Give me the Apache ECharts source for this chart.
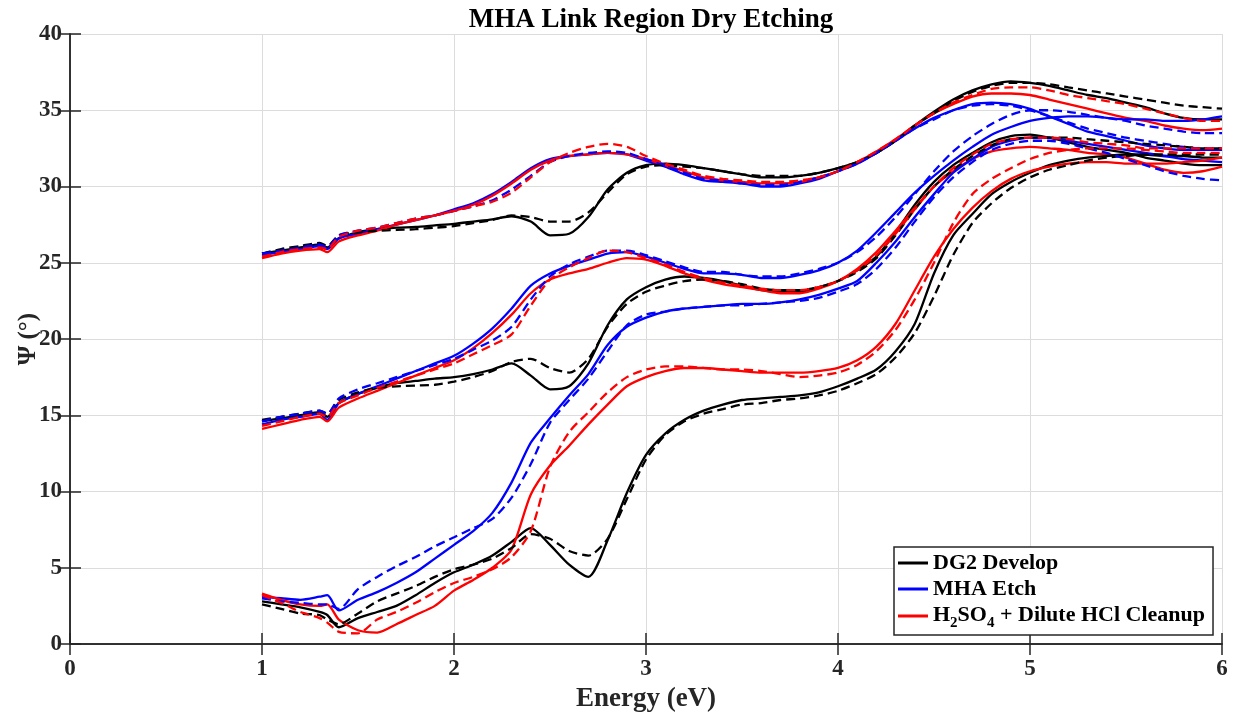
<!DOCTYPE html>
<html><head><meta charset="utf-8">
<script src="https://cdn.jsdelivr.net/npm/echarts@6/dist/echarts.min.js"></script>
<style>html,body{margin:0;padding:0;background:#fff}#c{width:1240px;height:715px}</style>
</head><body><div id="c"></div>
<script>
// Shared photon energy grid (eV)
const energy = [1.0,1.1,1.2,1.3,1.34,
 1.4,1.5,1.6,1.7,1.8,1.9,2.0,2.1,2.2,2.3,
 2.4,2.5,2.6,2.7,2.8,2.9,3.0,3.1,3.2,3.3,
 3.4,3.5,3.6,3.7,3.8,3.9,4.0,4.1,4.2,4.3,
 4.4,4.5,4.6,4.7,4.8,4.9,5.0,5.1,5.2,5.3,
 5.4,5.5,5.6,5.7,5.8,5.9,6.0];

const xTicks = [0,1,2,3,4,5,6];
const yTicks = [0,5,10,15,20,25,30,35,40];
const legendNames = ['DG2 Develop','MHA Etch','H2SO4 + Dilute HCl Cleanup'];

// Upper curve family
const topBlackSolid = [25.6,25.8,26.0,26.2,26.0,
 26.6,27.0,27.2,27.3,27.35,27.45,27.55,27.7,27.85,28.05,
 27.7,26.8,26.9,28.0,29.8,30.9,31.4,31.5,31.4,31.2,
 31.0,30.8,30.6,30.6,30.7,30.9,31.2,31.6,32.2,33.0,
 34.0,34.9,35.7,36.3,36.7,36.9,36.8,36.6,36.3,36.0,
 35.8,35.5,35.2,34.8,34.5,34.4,34.4];
const topBlackDash = [25.6,25.9,26.1,26.3,26.1,
 26.8,27.0,27.1,27.15,27.2,27.3,27.4,27.6,27.8,28.1,
 28.0,27.7,27.7,28.3,29.6,30.8,31.3,31.4,31.3,31.2,
 31.0,30.8,30.7,30.7,30.7,30.9,31.2,31.6,32.2,33.0,
 34.0,34.8,35.6,36.2,36.6,36.8,36.8,36.7,36.5,36.3,
 36.1,35.9,35.7,35.5,35.3,35.2,35.1];
const topBlueSolid = [25.5,25.7,25.9,26.1,25.9,
 26.6,26.9,27.2,27.5,27.8,28.1,28.5,28.9,29.5,30.3,
 31.2,31.8,32.0,32.1,32.2,32.1,31.7,31.3,30.8,30.4,
 30.3,30.2,30.0,30.0,30.2,30.5,31.0,31.5,32.2,33.0,
 33.8,34.5,35.0,35.4,35.5,35.4,35.1,34.6,34.1,33.6,
 33.3,33.0,32.7,32.5,32.4,32.4,32.4];
const topBlueDash = [25.6,25.8,26.0,26.2,26.0,
 26.8,27.1,27.3,27.6,27.9,28.1,28.4,28.7,29.1,29.8,
 30.7,31.6,32.0,32.2,32.3,32.2,31.8,31.4,30.9,30.5,
 30.4,30.2,30.1,30.1,30.3,30.6,31.0,31.5,32.2,33.0,
 33.8,34.4,35.0,35.3,35.4,35.3,35.0,34.6,34.2,33.8,
 33.5,33.2,33.0,32.8,32.6,32.5,32.5];
const topRedSolid = [25.3,25.6,25.8,25.9,25.7,
 26.4,26.8,27.1,27.5,27.8,28.1,28.4,28.8,29.4,30.2,
 31.1,31.7,32.0,32.1,32.2,32.1,31.8,31.4,31.0,30.6,
 30.4,30.3,30.2,30.2,30.3,30.6,31.0,31.6,32.3,33.1,
 34.0,34.8,35.4,35.9,36.1,36.1,36.0,35.7,35.4,35.1,
 34.8,34.5,34.3,34.0,33.8,33.7,33.8];
const topRedDash = [25.4,25.7,25.9,26.0,25.9,
 26.7,27.1,27.3,27.6,27.9,28.1,28.4,28.7,29.0,29.6,
 30.6,31.6,32.2,32.6,32.8,32.6,32.0,31.5,31.1,30.7,
 30.5,30.4,30.3,30.3,30.4,30.6,31.0,31.6,32.3,33.1,
 34.0,34.8,35.5,36.0,36.4,36.5,36.5,36.3,36.0,35.8,
 35.6,35.4,35.1,34.8,34.5,34.3,34.3];

// Middle curve family
const midBlackSolid = [14.6,14.8,15.0,15.2,14.9,
 15.8,16.4,16.8,17.1,17.25,17.4,17.5,17.7,18.0,18.4,
 17.6,16.7,16.9,18.4,20.9,22.6,23.4,23.9,24.1,24.0,
 23.8,23.5,23.2,23.1,23.1,23.4,23.8,24.5,25.4,27.0,
 28.8,30.3,31.4,32.2,32.9,33.3,33.4,33.2,32.9,32.6,
 32.4,32.2,31.9,31.7,31.5,31.4,31.4];
const midBlackDash = [14.7,14.9,15.1,15.3,15.1,
 16.0,16.5,16.8,16.9,16.95,17.0,17.2,17.5,17.9,18.5,
 18.7,18.1,17.8,18.7,20.8,22.3,23.1,23.5,23.8,23.9,
 23.8,23.6,23.3,23.2,23.2,23.4,23.8,24.4,25.3,26.8,
 28.5,30.0,31.1,32.0,32.7,33.1,33.2,33.2,33.2,33.1,
 33.0,32.9,32.8,32.7,32.6,32.5,32.5];
const midBlueSolid = [14.4,14.7,14.9,15.1,14.7,
 15.8,16.4,16.9,17.4,17.9,18.4,18.9,19.7,20.7,22.0,
 23.5,24.3,24.8,25.2,25.6,25.7,25.4,25.0,24.6,24.3,
 24.3,24.2,24.0,24.0,24.2,24.5,25.0,25.8,27.0,28.3,
 29.6,30.7,31.7,32.6,33.4,33.9,34.3,34.5,34.6,34.6,
 34.5,34.4,34.4,34.3,34.3,34.4,34.6];
const midBlueDash = [14.6,14.9,15.1,15.3,15.1,
 16.1,16.7,17.1,17.5,17.9,18.3,18.7,19.3,19.9,20.8,
 22.6,24.1,24.9,25.4,25.8,25.8,25.5,25.1,24.7,24.4,
 24.4,24.2,24.1,24.1,24.3,24.6,25.0,25.7,26.7,28.0,
 29.5,31.0,32.3,33.3,34.1,34.7,35.0,35.0,34.9,34.7,
 34.5,34.3,34.0,33.8,33.6,33.5,33.5];
const midRedSolid = [14.1,14.4,14.7,14.9,14.6,
 15.5,16.1,16.6,17.1,17.6,18.1,18.6,19.4,20.4,21.6,
 23.0,23.9,24.3,24.6,25.0,25.3,25.2,24.8,24.3,23.9,
 23.6,23.4,23.2,23.0,23.0,23.3,23.8,24.6,25.7,27.1,
 28.6,30.0,31.0,31.8,32.3,32.5,32.6,32.5,32.4,32.2,
 32.1,31.9,31.5,31.1,30.9,31.0,31.3];
const midRedDash = [14.3,14.6,14.9,15.1,14.9,
 15.8,16.3,16.8,17.2,17.6,18.0,18.4,19.0,19.6,20.3,
 22.2,23.9,24.7,25.3,25.8,25.7,25.3,24.9,24.4,24.0,
 23.7,23.5,23.3,23.2,23.2,23.4,23.8,24.5,25.5,26.9,
 28.5,30.0,31.2,32.1,32.8,33.1,33.2,33.2,33.1,32.9,
 32.8,32.7,32.5,32.5,32.5,32.5,32.5];

// Lower curve family
const botBlackSolid = [2.8,2.6,2.4,2.1,1.9,
 1.1,1.7,2.1,2.5,3.2,4.0,4.7,5.2,5.8,6.7,
 7.6,6.5,5.2,4.4,6.8,9.9,12.4,13.8,14.7,15.3,
 15.7,16.0,16.1,16.2,16.3,16.5,16.9,17.4,18.0,19.2,
 21.0,24.3,26.8,28.2,29.5,30.3,30.9,31.4,31.7,31.9,
 32.0,32.1,32.1,32.0,32.0,31.9,31.9];
const botBlackDash = [2.6,2.3,2.0,1.9,1.6,
 1.3,2.0,2.8,3.3,3.8,4.4,4.9,5.2,5.6,6.3,
 7.2,6.9,6.1,5.8,6.9,9.5,12.1,13.7,14.6,15.1,
 15.4,15.7,15.8,16.0,16.1,16.3,16.6,17.1,17.7,18.8,
 20.4,22.8,25.5,27.6,28.9,29.9,30.6,31.1,31.4,31.7,
 31.9,32.0,32.1,32.1,32.1,32.1,32.1];
const botBlueSolid = [3.1,3.0,2.9,3.1,3.2,
 2.2,2.9,3.4,4.0,4.7,5.6,6.5,7.4,8.6,10.6,
 13.2,14.8,16.3,17.7,19.6,20.8,21.4,21.8,22.0,22.1,
 22.2,22.3,22.3,22.4,22.6,22.9,23.3,23.8,25.0,26.4,
 28.0,29.5,30.9,31.8,32.6,33.0,33.2,33.2,33.0,32.8,
 32.6,32.4,32.2,32.0,31.8,31.7,31.6];
const botBlueDash = [3.0,2.8,2.7,2.6,2.6,
 2.3,3.6,4.4,5.1,5.7,6.4,7.0,7.6,8.2,9.6,
 11.8,14.5,16.0,17.4,19.2,20.9,21.6,21.8,22.0,22.1,
 22.2,22.2,22.3,22.4,22.5,22.7,23.1,23.6,24.6,26.0,
 27.7,29.3,30.6,31.6,32.4,32.8,33.0,33.0,32.8,32.5,
 32.2,31.8,31.4,31.0,30.7,30.5,30.4];
const botRedSolid = [3.3,2.9,2.6,2.5,2.6,
 1.6,0.9,0.75,1.3,1.9,2.5,3.5,4.2,5.0,6.2,
 9.8,11.7,13.0,14.4,15.7,16.9,17.5,17.9,18.1,18.1,
 18.0,17.9,17.8,17.8,17.8,17.9,18.1,18.6,19.5,21.0,
 23.2,25.4,27.2,28.6,29.7,30.5,31.0,31.3,31.5,31.6,
 31.6,31.5,31.5,31.5,31.6,31.7,31.9];
const botRedDash = [3.2,2.7,2.1,1.7,1.4,
 0.8,0.7,1.6,2.1,2.7,3.4,4.0,4.4,4.9,5.7,
 7.4,11.6,13.9,15.2,16.5,17.5,18.0,18.2,18.2,18.1,
 18.0,18.0,17.9,17.7,17.5,17.6,17.8,18.3,19.2,20.6,
 22.6,25.0,27.6,29.5,30.5,31.2,31.8,32.2,32.4,32.5,
 32.5,32.5,32.4,32.3,32.2,32.2,32.2];

const BLACK = '#000000', BLUE = '#0000ff', RED = '#ff0000';
const FONT = '"Liberation Serif","Times New Roman",serif';

function mk(name, arr, color, dashed) {
  return {
    name: name, type: 'line', data: energy.map((x, i) => [x, arr[i]]),
    showSymbol: false, symbol: 'none', smooth: 0.25,
    lineStyle: { color: color, width: 2.3, type: dashed ? [9, 5] : 'solid' },
    itemStyle: { color: color }, emphasis: { disabled: true }, z: 3
  };
}

const series = [
  mk(legendNames[0], topBlackSolid, BLACK, false),
  mk(legendNames[1], topBlueSolid, BLUE, false),
  mk(legendNames[2], topRedSolid, RED, false),
  mk(legendNames[0], midBlackSolid, BLACK, false),
  mk(legendNames[1], midBlueSolid, BLUE, false),
  mk(legendNames[2], midRedSolid, RED, false),
  mk(legendNames[0], botBlackSolid, BLACK, false),
  mk(legendNames[1], botBlueSolid, BLUE, false),
  mk(legendNames[2], botRedSolid, RED, false),
  mk(legendNames[0], topBlackDash, BLACK, true),
  mk(legendNames[1], topBlueDash, BLUE, true),
  mk(legendNames[2], topRedDash, RED, true),
  mk(legendNames[0], midBlackDash, BLACK, true),
  mk(legendNames[1], midBlueDash, BLUE, true),
  mk(legendNames[2], midRedDash, RED, true),
  mk(legendNames[0], botBlackDash, BLACK, true),
  mk(legendNames[1], botBlueDash, BLUE, true),
  mk(legendNames[2], botRedDash, RED, true)
];

const axisCommon = {
  axisLine: { show: true, lineStyle: { color: '#262626', width: 1.5 } },
  axisTick: { show: true, inside: true, length: 11, lineStyle: { color: '#262626', width: 1.5 } },
  minorTick: { show: false }
};

const chart = echarts.init(document.getElementById('c'), null, { renderer: 'canvas' });
chart.setOption({
  animation: false,
  backgroundColor: '#ffffff',
  title: {
    text: 'MHA Link Region Dry Etching', left: 646, top: 2, textAlign: 'center',
    textStyle: { fontFamily: FONT, fontWeight: 'bold', fontSize: 27, color: '#000' }
  },
  grid: { left: 70, right: 18, top: 34, bottom: 71, containLabel: false, outerBoundsMode: 'none' },
  legend: {
    data: legendNames.map(n => ({ name: n, icon: 'rect' })),
    orient: 'vertical', left: 894, top: 547,
    itemWidth: 30, itemHeight: 3, itemGap: 4,
    padding: [5, 8, 4, 4],
    backgroundColor: '#ffffff', borderColor: '#262626', borderWidth: 1.5, borderRadius: 0,
    selectedMode: false,
    textStyle: {
      fontFamily: FONT, fontWeight: 'bold', fontSize: 22, color: '#000',
      rich: {
        n: { fontFamily: FONT, fontWeight: 'bold', fontSize: 22, color: '#000', lineHeight: 24, verticalAlign: 'top' },
        s: { fontFamily: FONT, fontWeight: 'bold', fontSize: 15, color: '#000', lineHeight: 16, padding: [12, 0, 0, 0], verticalAlign: 'top' }
      }
    },
    formatter: function (name) {
      if (name.indexOf('H2SO4') === 0) return '{n|H}{s|2}{n|SO}{s|4}{n| + Dilute HCl Cleanup}';
      return name;
    }
  },
  xAxis: [
    Object.assign({
      type: 'value', min: xTicks[0], max: xTicks[xTicks.length - 1], interval: 1,
      position: 'bottom', name: 'Energy (eV)', nameLocation: 'middle', nameGap: 38,
      nameTextStyle: { fontFamily: FONT, fontWeight: 'bold', fontSize: 27, color: '#262626' },
      axisLabel: { fontFamily: FONT, fontWeight: 'bold', fontSize: 23, color: '#262626', margin: 14 },
      splitLine: { show: true, lineStyle: { color: '#dcdcdc', width: 1 } }
    }, axisCommon),
    Object.assign({
      type: 'value', min: xTicks[0], max: xTicks[xTicks.length - 1], interval: 1,
      position: 'top', axisLabel: { show: false }, splitLine: { show: false }
    }, axisCommon)
  ],
  yAxis: [
    Object.assign({
      type: 'value', min: yTicks[0], max: yTicks[yTicks.length - 1], interval: 5,
      position: 'left', name: 'Ψ (°)', nameLocation: 'middle', nameGap: 29, nameRotate: 90,
      nameMoveOverlap: false,
      nameTextStyle: { fontFamily: FONT, fontWeight: 'bold', fontSize: 25, color: '#262626' },
      axisLabel: { fontFamily: FONT, fontWeight: 'bold', fontSize: 23, color: '#262626', margin: 8 },
      splitLine: { show: true, lineStyle: { color: '#dcdcdc', width: 1 } }
    }, axisCommon),
    Object.assign({
      type: 'value', min: yTicks[0], max: yTicks[yTicks.length - 1], interval: 5,
      position: 'right', axisLabel: { show: false }, splitLine: { show: false }
    }, axisCommon)
  ],
  series: series
});
</script></body></html>
